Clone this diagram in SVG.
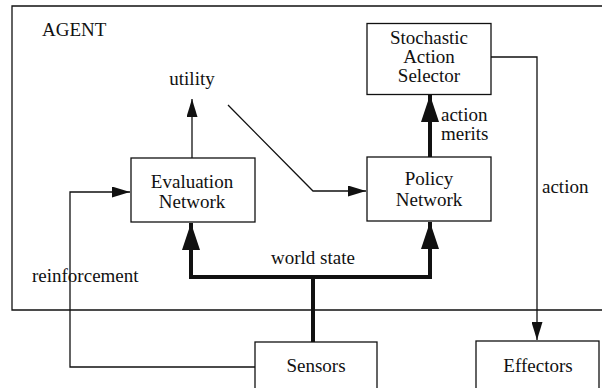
<svg xmlns="http://www.w3.org/2000/svg" width="602" height="388" viewBox="0 0 602 388">
<style>
text{font-family:"Liberation Serif","Times New Roman",serif;font-size:19px;fill:#111}
.c{text-anchor:middle}
.box{fill:#fff;stroke:#111;stroke-width:1.3}
.thin{fill:none;stroke:#111;stroke-width:1.3}
.thick{fill:none;stroke:#111;stroke-width:4;stroke-linejoin:miter}
</style>
<defs>
<marker id="ah" markerUnits="userSpaceOnUse" markerWidth="18" markerHeight="11" refX="18" refY="5.5" orient="auto"><path d="M0,0 L18,5.5 L0,11 z" fill="#111"/></marker>
<marker id="ahb" markerUnits="userSpaceOnUse" markerWidth="27" markerHeight="18" refX="27" refY="9" orient="auto"><path d="M0,0 L27,9 L0,18 z" fill="#111"/></marker>
</defs>
<g id="agent">
<polyline class="thin" points="602,6 12,6 12,310 602,310"/>
<text x="42" y="36">AGENT</text>
</g>
<g id="connectors">
<polyline class="thin" points="192,158 192,99" marker-end="url(#ah)"/>
<polyline class="thin" points="228,105 313,191 366,191" marker-end="url(#ah)"/>
<polyline class="thick" points="430,157 430,95" marker-end="url(#ahb)"/>
<polyline class="thin" points="491,57 537,57 537,340" marker-end="url(#ah)"/>
<polyline class="thin" points="255,367 70,367 70,192 130,192" marker-end="url(#ah)"/>
<polyline class="thick" points="313,342 313,277"/>
<polyline class="thick" points="313,277 191,277 191,223" marker-end="url(#ahb)"/>
<polyline class="thick" points="313,277 430,277 430,222" marker-end="url(#ahb)"/>
<text x="192" y="85" class="c">utility</text>
<text x="441" y="121">action</text>
<text x="441" y="140">merits</text>
<text x="542" y="193">action</text>
<text x="313" y="264" class="c">world state</text>
<text x="32" y="282">reinforcement</text>
</g>
<g id="selector">
<rect class="box" x="367" y="23.5" width="124" height="71"/>
<text x="429" y="44" class="c">Stochastic</text>
<text x="429" y="63" class="c">Action</text>
<text x="429" y="82" class="c">Selector</text>
</g>
<g id="evaluation">
<rect class="box" x="131" y="158" width="124" height="64"/>
<text x="192" y="188" class="c">Evaluation</text>
<text x="192" y="208" class="c">Network</text>
</g>
<g id="policy">
<rect class="box" x="367" y="157" width="124" height="64"/>
<text x="429" y="185" class="c">Policy</text>
<text x="429" y="206" class="c">Network</text>
</g>
<g id="sensors">
<rect class="box" x="255" y="342" width="122" height="50"/>
<text x="316" y="372" class="c">Sensors</text>
</g>
<g id="effectors">
<rect class="box" x="476" y="341" width="123" height="51"/>
<text x="538" y="372" class="c">Effectors</text>
</g>
</svg>
